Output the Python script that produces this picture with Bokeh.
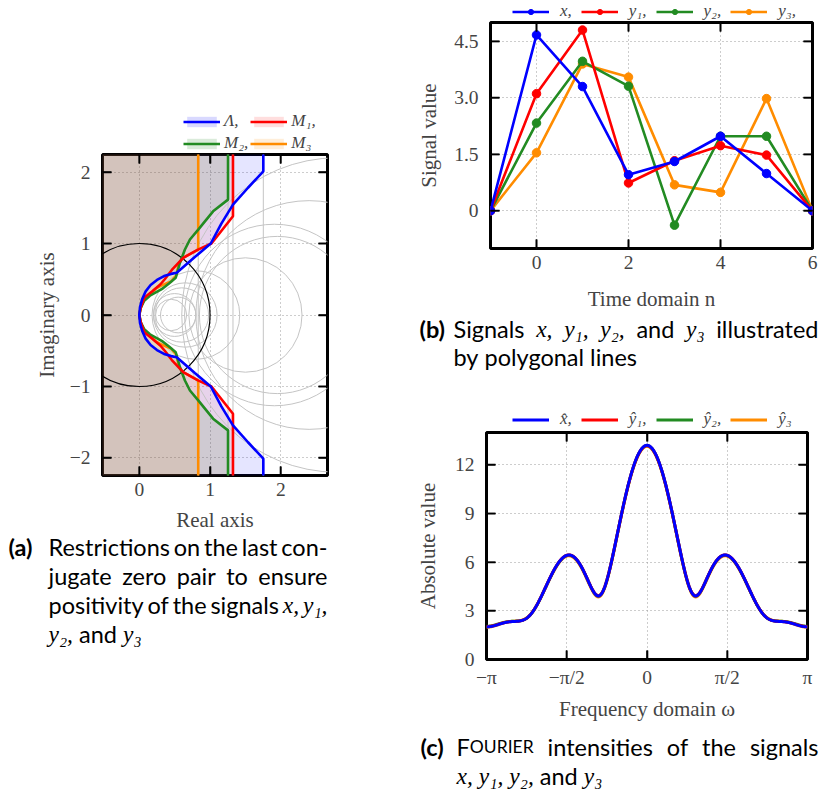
import glob
import subprocess
import numpy as np
from bokeh.plotting import figure
from bokeh.models import Range1d, LinearAxis, FixedTicker, Legend, LegendItem, ColumnDataSource
from bokeh.embed import file_html
from bokeh.resources import INLINE
from bokeh.core.properties import value

SERIF = "Liberation Serif"
SANS = "Lato"
BLUE, RED, GREEN, ORANGE = "#0000ff", "#ff0000", "#228b22", "#ff8c00"
TICK_FS, LAB_FS = "19.5px", "21px"

# ---------------- panel (b) data ----------------
n_idx = [-1, 0, 1, 2, 3, 4, 5, 6]
sig_x = [0.0, 4.67, 3.30, 0.96, 1.31, 1.98, 0.99, 0.0]
sig_y1 = [0.0, 3.11, 4.80, 0.74, 1.33, 1.73, 1.48, 0.0]
sig_y2 = [0.0, 2.33, 3.97, 3.31, -0.38, 1.98, 1.98, 0.0]
sig_y3 = [0.0, 1.54, 3.90, 3.55, 0.69, 0.49, 2.98, 0.0]
b_xticks = [0, 2, 4, 6]
b_yticks = [0, 1.5, 3.0, 4.5]
b_ylabels = ["0", "1.5", "3.0", "4.5"]

# ---------------- panel (c) ticks ----------------
c_xticks = [-np.pi, -np.pi / 2, 0.0, np.pi / 2, np.pi]
c_xlabels = ["\u2212\u03c0", "\u2212\u03c0/2", "0", "\u03c0/2", "\u03c0"]
c_yticks = [0, 3, 6, 9, 12]

# ---------------- panel (a) data ----------------
a_xticks = [0, 1, 2]
a_yticks = [-2, -1, 0, 1, 2]
a_ylabels = ["\u22122", "\u22121", "0", "1", "2"]
# region boundaries, upper half (mirrored for the lower half)
lam_x = [1.753, 1.753, 1.537, 1.324, 1.16, 1.01, 0.785, 0.529, 0.45, 0.35, 0.25, 0.16, 0.09, 0.04, 0.01, 0.0]
lam_y = [2.6, 2.01, 1.78, 1.544, 1.279, 1.0, 0.81, 0.591, 0.575, 0.545, 0.49, 0.42, 0.33, 0.22, 0.11, 0.0]
m1_x = [1.324, 1.324, 1.02, 0.83, 0.62, 0.46, 0.36, 0.30, 0.18, 0.07, 0.02, 0.0]
m1_y = [2.6, 1.381, 1.0, 0.915, 0.80, 0.63, 0.50, 0.43, 0.33, 0.24, 0.10, 0.0]
m2_x = [1.254, 1.254, 1.043, 0.833, 0.716, 0.645, 0.575, 0.515, 0.42, 0.33, 0.24, 0.15, 0.07, 0.02, 0.0]
m2_y = [2.6, 1.614, 1.45, 1.195, 1.056, 0.916, 0.731, 0.521, 0.44, 0.37, 0.32, 0.27, 0.20, 0.10, 0.0]
m3_x = [0.833, 0.833, 0.62, 0.56, 0.52, 0.45, 0.33, 0.235, 0.14, 0.07, 0.024, 0.0]
m3_y = [2.6, 0.915, 0.80, 0.72, 0.55, 0.47, 0.42, 0.37, 0.28, 0.21, 0.12, 0.0]
circ_cx = [0.45, 0.50, 0.55, 0.60, 0.65, 0.80, 1.50, 1.91, 1.95, 2.40, 2.80]
circ_r = [0.22, 0.30, 0.25, 0.38, 0.45, 0.62, 0.80, 1.27, 1.10, 1.60, 2.20]
grey_vx = [0.833, 1.254, 1.324, 1.753]

TICK_LEN = 9


def style(p, xt, yt, xlab=None, ylab=None, xover=None, yover=None, xstand=8, ystand=13, xls=10, yls=10):
    p.outline_line_color = "black"
    p.outline_line_width = 3
    p.background_fill_color = "white"
    p.border_fill_color = "white"
    for ax, ticks, over, st, lab, ls in ((p.xaxis[0], xt, xover, xstand, xlab, xls),
                                         (p.yaxis[0], yt, yover, ystand, ylab, yls)):
        ax.ticker = FixedTicker(ticks=ticks)
        if over:
            ax.major_label_overrides = over
        ax.axis_line_color = None
        ax.major_tick_in = TICK_LEN
        ax.major_tick_out = 0
        ax.major_tick_line_width = 1.6
        ax.major_tick_line_color = "black"
        ax.minor_tick_line_color = None
        ax.major_label_text_font = SERIF
        ax.major_label_text_font_size = TICK_FS
        ax.major_label_standoff = st
        ax.axis_label = lab
        ax.axis_label_text_font = SERIF
        ax.axis_label_text_font_size = LAB_FS
        ax.axis_label_text_font_style = "normal"
        ax.axis_label_standoff = ls
    for loc, ticks in (("above", xt), ("right", yt)):
        ax = LinearAxis(ticker=FixedTicker(ticks=ticks), axis_line_color=None,
                        major_tick_in=TICK_LEN, major_tick_out=0, major_tick_line_width=1.6,
                        major_tick_line_color="black",
                        minor_tick_line_color=None, major_label_text_color=None,
                        major_label_text_font_size="8px", major_label_standoff=0)
        p.add_layout(ax, loc)
    p.grid.grid_line_color = "#9a9a9a"
    p.grid.grid_line_dash = "1 3"
    p.grid.grid_line_width = 1
    p.xgrid.ticker = FixedTicker(ticks=xt)
    p.ygrid.ticker = FixedTicker(ticks=yt)
    # inward tick marks on all four sides of the frame (drawn as glyphs too, so they always show)
    x0, x1 = p.x_range.start, p.x_range.end
    y0, y1 = p.y_range.start, p.y_range.end
    fw = p.width - p.min_border_left - p.min_border_right
    fh = p.height - p.min_border_top - p.min_border_bottom
    dx = TICK_LEN * (x1 - x0) / fw
    dy = TICK_LEN * (y1 - y0) / fh
    xt_ = list(xt)
    yt_ = list(yt)
    p.segment(x0=xt_ + xt_, y0=[y0] * len(xt_) + [y1] * len(xt_),
              x1=xt_ + xt_, y1=[y0 + dy] * len(xt_) + [y1 - dy] * len(xt_),
              line_color="black", line_width=1.6, level="guide")
    p.segment(x0=[x0] * len(yt_) + [x1] * len(yt_), y0=yt_ + yt_,
              x1=[x0 + dx] * len(yt_) + [x1 - dx] * len(yt_), y1=yt_ + yt_,
              line_color="black", line_width=1.6, level="guide")


def place(p, left, top):
    p.styles = {"position": "absolute", "left": f"{left}px", "top": f"{top}px"}
    return p


# ================= panel (a) =================
pa = figure(width=335, height=540, x_range=Range1d(-0.52, 2.66), y_range=Range1d(-2.245, 2.245),
            output_backend="svg", toolbar_location=None,
            min_border_left=102, min_border_right=8, min_border_top=154, min_border_bottom=65)


def region(bx, by, left=-1.0):
    ux, uy = list(bx), list(by)
    lx = [bx[i] for i in range(len(bx) - 2, -1, -1)]
    ly = [-by[i] for i in range(len(by) - 2, -1, -1)]
    px = [left] + ux + lx + [left]
    py = [by[0]] + uy + ly + [-by[0]]
    return px, py, ux + lx, uy + ly


regions = [("\u039b,", lam_x, lam_y, BLUE, 0.10), ("M\u2081,", m1_x, m1_y, RED, 0.08),
           ("M\u2082,", m2_x, m2_y, GREEN, 0.12), ("M\u2083", m3_x, m3_y, ORANGE, 0.10)]
for lab, bx, by, col, fa in regions:
    px, py, lx, ly = region(bx, by)
    pa.patch(px, py, fill_color=col, fill_alpha=fa, line_color=None)

for cx, r in zip(circ_cx, circ_r):
    pa.ellipse(x=cx, y=0, width=2 * r, height=2 * r, fill_color=None, line_color="#c4c4c4", line_width=1)
for vx in grey_vx:
    pa.line([vx, vx], [-3, 3], line_color="#c4c4c4", line_width=1)
pa.ellipse(x=0, y=0, width=2, height=2, fill_color=None, line_color="black", line_width=1.2)

for lab, bx, by, col, fa in regions[::-1]:
    px, py, lx, ly = region(bx, by)
    pa.line(lx, ly, line_color=col, line_width=2.6)
style(pa, a_xticks, a_yticks, "Real axis", "Imaginary axis",
      yover={t: l for t, l in zip(a_yticks, a_ylabels)}, xstand=7, ystand=12, xls=9, yls=8)
place(pa, 0, 0)

# ================= panel (b) =================
pb = figure(width=484, height=318, x_range=Range1d(-1, 6), y_range=Range1d(-1, 5),
            output_backend="svg", toolbar_location=None,
            min_border_left=155, min_border_right=7, min_border_top=22, min_border_bottom=70)
src_b = ColumnDataSource(dict(n=n_idx, x=sig_x, y1=sig_y1, y2=sig_y2, y3=sig_y3))
for key, col in (("y3", ORANGE), ("y2", GREEN), ("y1", RED), ("x", BLUE)):
    pb.line("n", key, source=src_b, line_color=col, line_width=2.6)
    pb.scatter("n", key, source=src_b, size=8.5, fill_color=col, line_color=col)
style(pb, b_xticks, b_yticks, "Time domain n", "Signal value",
      yover={t: l for t, l in zip(b_yticks, b_ylabels)}, xstand=7, ystand=12, xls=15, yls=10)
place(pb, 335, 0)

# ================= panel (c) =================
pc = figure(width=484, height=335, x_range=Range1d(-np.pi, np.pi), y_range=Range1d(0, 14),
            output_backend="svg", toolbar_location=None,
            min_border_left=151, min_border_right=12, min_border_top=32, min_border_bottom=76)
omega = np.linspace(-np.pi, np.pi, 721)


def spectrum(sig):
    k = np.array(n_idx, dtype=float)
    s = np.array(sig, dtype=float)
    return np.abs(np.exp(-1j * np.outer(omega, k)) @ s)


for key, sig, col in (("y3", sig_y3, ORANGE), ("y2", sig_y2, GREEN), ("y1", sig_y1, RED), ("x", sig_x, BLUE)):
    pc.line(omega, spectrum(sig), line_color=col, line_width=3)
style(pc, c_xticks, c_yticks, "Frequency domain \u03c9", "Absolute value",
      xover={t: l for t, l in zip(c_xticks, c_xlabels)}, xstand=7, ystand=12, xls=6, yls=12)
place(pc, 335, 400)

# ================= captions + legends (one transparent overlay on top) =================
CAP = 23.5
STY = {"reg": (SANS, "normal", CAP, "Lato:style=Regular", "**/Lato-Regular.ttf"),
       "bold": (SANS, "bold", CAP, "Lato:style=Bold", "**/Lato-Bold.ttf"),
       "math": (SERIF, "italic", CAP, "Liberation Serif:style=Italic", "**/LiberationSerif-Italic.ttf"),
       "sc": (SANS, "normal", 17.5, "Lato:style=Regular", "**/Lato-Regular.ttf")}
_fonts = {}


def _font(kind):
    if kind in _fonts:
        return _fonts[kind]
    f = None
    try:
        from PIL import ImageFont
        path = None
        try:
            path = subprocess.run(["fc-match", "-f", "%{file}", STY[kind][3]], capture_output=True,
                                  text=True, timeout=5).stdout.strip() or None
        except Exception:
            path = None
        if not path:
            g = glob.glob("/usr/share/fonts/" + STY[kind][4], recursive=True)
            path = g[0] if g else None
        if path:
            f = ImageFont.truetype(path, size=int(round(STY[kind][2] * 4)))
    except Exception:
        f = None
    _fonts[kind] = f
    return f


def width(text, kind):
    f = _font(kind)
    if f is not None:
        try:
            return f.getlength(text) / 4.0
        except Exception:
            pass
    return len(text) * 0.47 * STY[kind][2]


def parse_word(w):
    segs = []
    math = False
    sc = False
    buf = ""
    for ch in w:
        if ch in "${}":
            if buf:
                segs.append((buf, "math" if math else ("sc" if sc else "reg")))
                buf = ""
            if ch == "$":
                math = not math
            elif ch == "{":
                sc = True
            else:
                sc = False
        else:
            buf += ch
    if buf:
        segs.append((buf, "math" if math else ("sc" if sc else "reg")))
    return segs


def layout_caption(label, lx, left, right, baselines, lines_):
    out = [(label, lx, baselines[0], "bold")]
    for (txt, justify), yb in zip(lines_, baselines):
        words = [parse_word(w) for w in txt.split(" ")]
        wws = [sum(width(t, k) for t, k in segs) for segs in words]
        gap = width(" ", "reg")
        if justify and len(words) > 1:
            gap = (right - left - sum(wws)) / (len(words) - 1)
        x = left
        for segs, ww in zip(words, wws):
            xx = x
            for t, k in segs:
                out.append((t, xx, yb, k))
                xx += width(t, k)
            x += ww + gap
    return out


cap_pieces = []
cap_pieces += layout_caption("(a)", 8, 48, 327, [546, 575, 604, 633], [
    ("Restrictions on the last con-", True),
    ("jugate zero pair to ensure", True),
    ("positivity of the signals $x,$ $y\u2081,$", True),
    ("$y\u2082,$ and $y\u2083$", False)])
cap_pieces += layout_caption("(b)", 419, 453, 818, [328, 356], [
    ("Signals $x,$ $y\u2081,$ $y\u2082,$ and $y\u2083$ illustrated", True),
    ("by polygonal lines", False)])
cap_pieces += layout_caption("(c)", 420, 456, 818, [746, 775], [
    ("F{OURIER} intensities of the signals", True),
    ("$x,$ $y\u2081,$ $y\u2082,$ and $y\u2083$", False)])

W, H = 819, 802
caps = figure(width=W, height=H, x_range=Range1d(0, W), y_range=Range1d(H, 0),
              output_backend="svg", toolbar_location=None, x_axis_location=None, y_axis_location=None,
              min_border_left=0, min_border_right=0, min_border_top=0, min_border_bottom=0)
caps.grid.visible = False
caps.outline_line_color = None
caps.background_fill_alpha = 0
caps.border_fill_alpha = 0
for kind, (font, fst, fsz, _a, _b) in STY.items():
    sel = [s for s in cap_pieces if s[3] == kind]
    if not sel:
        continue
    caps.text(x=[s[1] for s in sel], y=[s[2] for s in sel], text=[s[0] for s in sel],
              text_font=value(font), text_font_style=fst, text_font_size=value(f"{fsz}px"),
              text_baseline="alphabetic", text_align="left", text_color="black")

# legend keys: renderers with the series' styles whose single point lies off the canvas,
# so that only their legend symbols are visible
OFF = -100


def key_line(col, w, marker=False):
    rs = [caps.line(x=[OFF, OFF - 5], y=[OFF, OFF], line_color=col, line_width=w)]
    if marker:
        rs.append(caps.scatter(x=[OFF], y=[OFF], size=8.5, fill_color=col, line_color=col))
    return rs


def legend(items, vx, vy, ncols=None, gw=37, standoff=11, spacing=9, lh=16):
    kw = dict(items=items, location=(vx, vy), border_line_color=None, background_fill_alpha=0,
              padding=0, margin=0, label_text_font=SERIF, label_text_font_style="italic",
              label_text_font_size="17px", label_height=lh, glyph_height=13, glyph_width=gw,
              label_standoff=standoff, spacing=spacing, label_width=8,
              orientation="horizontal" if ncols is None else "vertical")
    if ncols is not None:
        kw["ncols"] = ncols
    caps.add_layout(Legend(**kw))


a_keys = {}
for lab, bx, by, col, fa in regions:
    patch_r = caps.patches(xs=[[OFF, OFF - 5, OFF - 5]], ys=[[OFF, OFF, OFF - 5]],
                           fill_color=col, fill_alpha=fa + 0.05, line_color=None)
    a_keys[lab] = [patch_r] + key_line(col, 2.6)
legend([LegendItem(label=l, renderers=a_keys[l]) for l in ["\u039b,", "M\u2082,", "M\u2081,", "M\u2083"]],
       183, H - 153, ncols=2, standoff=4, spacing=2, lh=17)

b_keys = [("x,", BLUE), ("y\u2081,", RED), ("y\u2082,", GREEN), ("y\u2083,", ORANGE)]
legend([LegendItem(label=l, renderers=key_line(c, 2.6, True)) for l, c in b_keys], 512, H - 21)

c_keys = [("x\u0302,", BLUE), ("y\u0302\u2081,", RED), ("y\u0302\u2082,", GREEN), ("y\u0302\u2083", ORANGE)]
legend([LegendItem(label=l, renderers=key_line(c, 3)) for l, c in c_keys], 512, H - 429)

place(caps, 0, 0)

open("out.html", "w").write(file_html([pa, pb, pc, caps], INLINE))
